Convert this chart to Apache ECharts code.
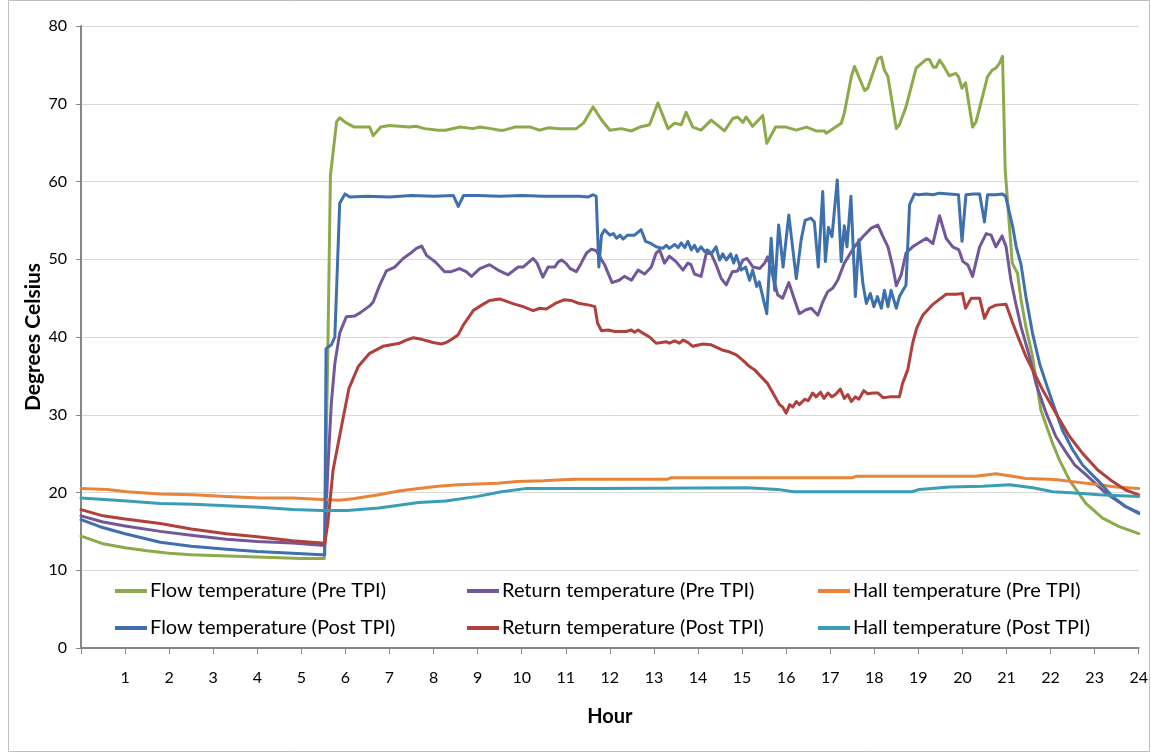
<!DOCTYPE html>
<html>
<head>
<meta charset="utf-8">
<script src="https://cdn.jsdelivr.net/npm/echarts@6/dist/echarts.min.js"></script>
<style>
html,body{margin:0;padding:0;background:#fff;}
#chart{width:1151px;height:753px;}
</style>
</head>
<body>
<div id="chart"></div>
<script>
// Series names (legend labels)
const seriesNames = [
  'Flow temperature (Pre TPI)', 'Return temperature (Pre TPI)', 'Hall temperature (Pre TPI)',
  'Flow temperature (Post TPI)', 'Return temperature (Post TPI)', 'Hall temperature (Post TPI)'
];
const axisTitles = { x: 'Hour', y: 'Degrees Celsius' };

// [hour, degrees C]
const flowPre = [[0,14.4],[0.25,13.9],[0.5,13.4],[1,12.9],[1.5,12.5],[2,12.2],[2.5,12.0],[3,11.9],[3.5,11.8],[4,11.7],[4.5,11.6],[5,11.5],[5.52,11.5],[5.6,38],[5.66,60.8],[5.8,67.7],[5.87,68.2],[6.0,67.6],[6.2,67.0],[6.55,67.0],[6.63,65.9],[6.8,67.0],[7.0,67.2],[7.23,67.1],[7.45,67.0],[7.6,67.1],[7.8,66.8],[8.1,66.6],[8.27,66.6],[8.6,67.0],[8.9,66.8],[9.05,67.0],[9.3,66.8],[9.5,66.6],[9.6,66.6],[9.84,67.0],[10.2,67.0],[10.4,66.6],[10.6,66.9],[10.86,66.8],[11.24,66.8],[11.4,67.5],[11.62,69.6],[11.8,68.0],[12.0,66.6],[12.26,66.8],[12.49,66.5],[12.68,67.0],[12.9,67.3],[13.09,70.1],[13.32,66.8],[13.47,67.5],[13.62,67.3],[13.73,68.9],[13.88,67.0],[14.07,66.6],[14.3,67.9],[14.6,66.5],[14.79,68.1],[14.9,68.3],[15.02,67.6],[15.09,68.3],[15.24,67.1],[15.47,68.5],[15.56,64.9],[15.76,67.0],[16.0,67.0],[16.23,66.6],[16.46,67.0],[16.68,66.5],[16.87,66.5],[16.91,66.2],[17.25,67.5],[17.32,68.8],[17.48,73.5],[17.55,74.8],[17.78,71.7],[17.85,72.0],[18.08,75.8],[18.16,76.0],[18.23,74.3],[18.31,73.5],[18.5,66.8],[18.57,67.3],[18.72,69.6],[18.95,74.6],[19.18,75.7],[19.25,75.7],[19.34,74.7],[19.4,74.7],[19.48,75.6],[19.57,74.9],[19.7,73.6],[19.85,73.9],[19.91,73.5],[19.99,72.0],[20.07,72.7],[20.23,67.0],[20.31,67.7],[20.57,73.5],[20.67,74.3],[20.76,74.6],[20.84,75.2],[20.91,76.1],[20.97,61.5],[21.03,57.0],[21.13,49.5],[21.25,48.2],[21.33,44.8],[21.44,41.3],[21.59,37.5],[21.78,30.6],[22.04,26.4],[22.2,24.2],[22.43,21.6],[22.8,18.6],[23.18,16.7],[23.56,15.6],[24,14.7]];

const returnPre = [[0,17.0],[0.5,16.2],[1,15.7],[1.8,15.0],[2.5,14.5],[3.3,14.0],[4,13.7],[4.8,13.5],[5.46,13.2],[5.53,13.2],[5.6,22.9],[5.68,31.5],[5.76,36.6],[5.87,40.5],[6.02,42.6],[6.21,42.7],[6.33,43.1],[6.55,44.0],[6.63,44.5],[6.78,46.7],[6.93,48.5],[7.12,49.0],[7.31,50.1],[7.46,50.7],[7.61,51.4],[7.73,51.7],[7.84,50.5],[8.03,49.7],[8.25,48.4],[8.4,48.4],[8.59,48.8],[8.74,48.4],[8.86,47.8],[9.05,48.8],[9.27,49.3],[9.5,48.5],[9.69,48.0],[9.92,49.0],[10.03,49.0],[10.26,50.1],[10.35,49.5],[10.48,47.7],[10.6,49.0],[10.75,49.0],[10.82,49.6],[10.9,49.9],[11.0,49.5],[11.1,48.8],[11.24,48.4],[11.35,49.5],[11.47,50.8],[11.58,51.3],[11.69,51.1],[11.88,49.3],[12.05,47.0],[12.21,47.3],[12.33,47.8],[12.49,47.3],[12.64,48.6],[12.79,48.1],[12.94,49.0],[13.05,50.8],[13.13,51.2],[13.24,49.5],[13.35,50.4],[13.5,49.7],[13.66,48.6],[13.77,49.5],[13.84,49.3],[13.92,48.1],[14.07,47.8],[14.19,50.8],[14.3,50.7],[14.41,49.3],[14.53,47.5],[14.64,46.7],[14.78,48.4],[14.9,48.5],[15.02,49.9],[15.11,50.1],[15.25,49.0],[15.4,48.8],[15.51,49.5],[15.58,50.3],[15.7,47.8],[15.81,45.4],[15.92,45.0],[16.06,47.0],[16.19,44.8],[16.3,43.0],[16.45,43.5],[16.57,43.7],[16.72,42.8],[16.83,44.5],[16.94,45.8],[17.06,46.3],[17.17,47.3],[17.32,49.5],[17.55,51.6],[17.74,52.9],[17.93,54.0],[18.08,54.4],[18.19,53.0],[18.31,51.6],[18.42,49.0],[18.5,46.6],[18.61,48.0],[18.72,50.8],[18.87,51.6],[19.18,52.7],[19.33,52.0],[19.48,55.6],[19.63,52.7],[19.78,51.6],[19.92,51.2],[20.01,49.7],[20.12,49.3],[20.23,47.8],[20.39,51.6],[20.54,53.3],[20.65,53.1],[20.76,51.6],[20.9,53.0],[20.99,51.6],[21.1,47.3],[21.21,44.3],[21.33,41.3],[21.52,37.5],[21.67,34.0],[21.9,30.2],[22.12,27.2],[22.35,25.2],[22.54,23.6],[22.8,22.3],[23.26,19.9],[23.7,18.2],[24,17.4]];

const hallPre = [[0,20.5],[0.6,20.4],[1.04,20.1],[1.8,19.8],[2.55,19.7],[3.3,19.5],[4.06,19.3],[4.8,19.3],[5.46,19.1],[5.86,19.0],[6.17,19.2],[6.76,19.7],[7.21,20.2],[7.66,20.5],[8.1,20.8],[8.55,21.0],[9.45,21.2],[9.9,21.4],[10.5,21.5],[10.8,21.6],[11.24,21.7],[13.3,21.7],[13.39,21.9],[15.73,21.9],[17.5,21.9],[17.6,22.1],[19.0,22.1],[19.55,22.1],[20.3,22.1],[20.76,22.4],[21.14,22.1],[21.44,21.8],[21.97,21.7],[22.2,21.6],[22.5,21.4],[23.1,21.0],[23.48,20.7],[24,20.5]];

const flowPost = [[0,16.5],[0.43,15.6],[1,14.7],[1.8,13.6],[2.5,13.1],[3.3,12.7],[4,12.4],[4.8,12.2],[5.46,12.0],[5.53,12.0],[5.56,38.5],[5.68,39.0],[5.76,40.0],[5.87,57.2],[5.99,58.4],[6.1,58.0],[6.5,58.1],[7.0,58.0],[7.5,58.2],[8.0,58.1],[8.45,58.2],[8.56,56.8],[8.68,58.2],[9.0,58.2],[9.5,58.1],[10.0,58.2],[10.5,58.1],[11.0,58.1],[11.3,58.1],[11.5,58.0],[11.62,58.3],[11.69,58.1],[11.75,49.0],[11.81,53.1],[11.88,53.8],[12.0,53.1],[12.08,53.3],[12.15,52.7],[12.23,53.1],[12.3,52.6],[12.4,53.1],[12.56,53.1],[12.71,53.8],[12.81,52.3],[12.94,52.0],[13.05,51.6],[13.2,51.4],[13.28,51.8],[13.35,51.4],[13.47,51.9],[13.55,51.5],[13.62,52.1],[13.7,51.5],[13.77,52.3],[13.85,51.2],[13.92,51.8],[13.99,51.0],[14.07,51.6],[14.15,51.0],[14.22,51.2],[14.3,50.7],[14.41,51.6],[14.49,49.9],[14.56,50.7],[14.64,49.9],[14.74,50.7],[14.81,49.5],[14.87,50.5],[14.98,48.6],[15.08,49.0],[15.17,47.3],[15.24,48.6],[15.33,46.5],[15.39,47.1],[15.56,43.0],[15.66,52.7],[15.74,46.0],[15.83,54.4],[15.93,49.0],[16.06,55.7],[16.23,47.5],[16.34,52.5],[16.43,55.0],[16.56,55.3],[16.64,54.8],[16.73,49.0],[16.83,58.7],[16.89,49.7],[16.96,54.1],[17.04,52.9],[17.16,60.2],[17.25,49.7],[17.32,54.3],[17.38,51.6],[17.47,58.1],[17.57,45.2],[17.65,52.5],[17.74,46.9],[17.82,44.3],[17.91,45.6],[17.99,43.9],[18.07,45.2],[18.16,43.7],[18.23,46.0],[18.31,43.9],[18.38,46.0],[18.5,43.7],[18.57,45.2],[18.72,46.7],[18.8,57.0],[18.91,58.4],[19.0,58.3],[19.18,58.4],[19.33,58.3],[19.48,58.5],[19.7,58.4],[19.91,58.3],[19.99,52.3],[20.08,58.3],[20.25,58.4],[20.39,58.4],[20.5,54.8],[20.57,58.3],[20.75,58.3],[20.91,58.4],[20.98,58.1],[21.14,54.2],[21.22,51.6],[21.33,49.3],[21.44,45.2],[21.59,40.5],[21.75,36.6],[21.9,34.0],[22.05,31.5],[22.27,28.0],[22.5,25.5],[22.73,23.5],[23.1,21.4],[23.4,19.5],[23.7,18.2],[24,17.3]];

const returnPost = [[0,17.8],[0.5,17.0],[1,16.6],[1.8,16.0],[2.5,15.3],[3.3,14.7],[4,14.3],[4.8,13.8],[5.46,13.5],[5.53,13.4],[5.6,16.0],[5.72,22.9],[5.91,28.5],[6.08,33.4],[6.29,36.2],[6.55,37.9],[6.85,38.8],[7.23,39.2],[7.38,39.6],[7.54,39.9],[7.73,39.7],[7.99,39.3],[8.18,39.1],[8.29,39.3],[8.44,39.8],[8.56,40.3],[8.67,41.5],[8.9,43.4],[9.09,44.1],[9.27,44.7],[9.5,44.9],[9.8,44.3],[10.03,43.9],[10.26,43.4],[10.41,43.7],[10.56,43.6],[10.79,44.4],[10.97,44.8],[11.12,44.7],[11.31,44.3],[11.54,44.1],[11.66,43.9],[11.72,41.8],[11.81,40.8],[11.96,40.9],[12.11,40.7],[12.37,40.7],[12.49,40.9],[12.56,40.6],[12.64,40.9],[12.75,40.5],[12.9,40.0],[13.05,39.2],[13.17,39.3],[13.28,39.4],[13.35,39.2],[13.47,39.5],[13.58,39.2],[13.66,39.6],[13.77,39.3],[13.88,38.8],[14.11,39.1],[14.3,39.0],[14.41,38.7],[14.56,38.3],[14.71,38.1],[14.87,37.7],[15.02,37.0],[15.17,36.2],[15.28,35.8],[15.43,34.9],[15.58,34.0],[15.7,32.8],[15.85,31.3],[15.92,31.0],[16.0,30.2],[16.08,31.3],[16.15,31.0],[16.23,31.7],[16.3,31.3],[16.42,32.0],[16.5,31.8],[16.6,32.8],[16.68,32.3],[16.78,32.9],[16.86,32.1],[16.95,32.8],[17.04,32.3],[17.12,32.6],[17.23,33.3],[17.32,32.1],[17.4,32.6],[17.48,31.7],[17.57,32.3],[17.65,32.0],[17.76,33.1],[17.85,32.7],[17.97,32.8],[18.08,32.8],[18.2,32.2],[18.35,32.3],[18.57,32.3],[18.64,34.0],[18.76,35.8],[18.87,39.2],[18.96,41.1],[19.1,42.8],[19.33,44.2],[19.63,45.5],[19.86,45.5],[20.0,45.6],[20.07,43.7],[20.2,45.0],[20.39,45.0],[20.5,42.4],[20.61,43.7],[20.76,44.1],[20.99,44.2],[21.14,41.8],[21.29,39.6],[21.44,37.5],[21.59,35.8],[21.82,33.2],[22.12,30.2],[22.43,27.2],[22.73,25.0],[23.07,22.9],[23.41,21.4],[23.71,20.3],[24,19.7]];

const hallPost = [[0,19.3],[1.04,18.9],[1.8,18.6],[2.55,18.5],[3.3,18.3],[4.06,18.1],[4.8,17.8],[5.46,17.7],[6.04,17.7],[6.76,18.0],[7.66,18.7],[8.28,18.9],[9.0,19.5],[9.54,20.1],[10.08,20.5],[11.69,20.5],[15.1,20.6],[15.81,20.4],[16.17,20.1],[18.86,20.1],[19.02,20.4],[19.7,20.7],[20.46,20.8],[21.07,21.0],[21.6,20.6],[22.05,20.1],[22.65,19.9],[23.1,19.7],[24,19.5]];

const seriesData = [flowPre, returnPre, hallPre, flowPost, returnPost, hallPost];
const colors = ['#8CAA4A', '#72589A', '#E8843A', '#3F70AE', '#B0403C', '#3A9DB6'];

const FONT = 'Lato';
const chart = echarts.init(document.getElementById('chart'), null, { renderer: 'canvas' });

// legend placement: 3 columns x 2 rows
const legendCols = [115, 467, 818];
const legendRows = [591, 628];
const legends = seriesNames.map((name, i) => ({
  show: true,
  left: legendCols[i % 3],
  top: legendRows[Math.floor(i / 3)] - 11,
  orient: 'horizontal',
  data: [name],
  icon: 'rect',
  itemWidth: 32,
  itemHeight: 4,
  selectedMode: false,
  padding: 0,
  textStyle: { fontFamily: FONT, fontSize: 20, color: '#000', lineHeight: 22, padding: [0, 0, 0, -2] }
}));

const option = {
  animation: false,
  backgroundColor: '#fff',
  color: colors,
  grid: { left: 81, right: 12, top: 26, bottom: 105, containLabel: false },
  legend: legends,
  graphic: [{
    type: 'rect', silent: true, z: -10,
    shape: { x: 8.5, y: 0.5, width: 1141, height: 751 },
    style: { fill: 'none', stroke: '#BFBFBF', lineWidth: 1 }
  }],
  xAxis: {
    type: 'value', min: 0, max: 24, interval: 1,
    name: axisTitles.x, nameLocation: 'middle', nameGap: 59, nameMoveOverlap: false,
    nameTextStyle: { fontFamily: FONT, fontSize: 20, fontWeight: 'bold', color: '#000' },
    axisLine: { show: true, onZero: false, lineStyle: { color: '#868686', width: 2 } },
    axisTick: { show: true, length: 6, lineStyle: { color: '#868686', width: 1 } },
    axisLabel: { fontFamily: FONT, fontSize: 16, color: '#000', margin: 22,
      formatter: v => (v === 0 ? '' : String(v)) },
    splitLine: { show: false }
  },
  yAxis: {
    type: 'value', min: 0, max: 80, interval: 10,
    name: axisTitles.y, nameLocation: 'middle', nameGap: 37, nameRotate: 90, nameMoveOverlap: false,
    nameTextStyle: { fontFamily: FONT, fontSize: 21, fontWeight: 'bold', color: '#000' },
    axisLine: { show: true, lineStyle: { color: '#868686', width: 2 } },
    axisTick: { show: true, length: 5, lineStyle: { color: '#868686', width: 1 } },
    axisLabel: { fontFamily: FONT, fontSize: 16, color: '#000', margin: 14 },
    splitLine: { show: true, lineStyle: { color: '#D9D9D9', width: 1 } }
  },
  series: seriesNames.map((name, i) => ({
    name: name,
    type: 'line',
    data: seriesData[i],
    showSymbol: false,
    symbol: 'none',
    lineStyle: { width: 3, color: colors[i], join: 'round', cap: 'round' },
    itemStyle: { color: colors[i] },
    z: 2 + i
  }))
};
chart.setOption(option);
</script>
</body>
</html>
